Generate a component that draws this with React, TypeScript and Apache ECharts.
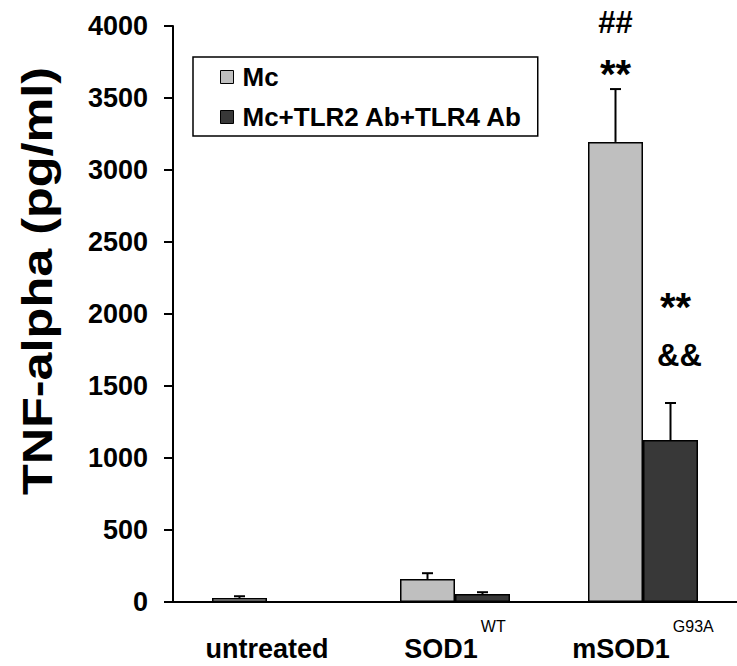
import React, { useEffect, useRef } from "react";
import * as echarts from "echarts";

const categories = ["untreated", "SOD1", "mSOD1"];
const superscripts = ["", "WT", "G93A"];
const seriesNames = ["Mc", "Mc+TLR2 Ab+TLR4 Ab"];
const mcValues = [28, 160, 3195];
const mcErrors = [12, 40, 367];
const abValues = [0, 55, 1125];
const abErrors = [0, 13, 257];
const yTicks = { min: 0, max: 4000, interval: 500 };
const yTitle = "TNF-alpha (pg/ml)";
// annotations: [categoryIndex, seriesIndex, text]
const annotations: [number, number, string][] = [
  [2, 0, "##"],
  [2, 0, "**"],
  [2, 1, "**"],
  [2, 1, "&&"],
];

const FONT = "'Liberation Sans', Arial, sans-serif";
const BAR_W = 55;

export default function App() {
  const ref = useRef<HTMLDivElement>(null);
  useEffect(() => {
    if (!ref.current) return;
    const chart = echarts.init(ref.current, null, { renderer: "svg" });
    const errData: number[][] = [];
    mcValues.forEach((v, i) => {
      if (mcErrors[i] > 0) errData.push([i, v, v + mcErrors[i], -1]);
    });
    abValues.forEach((v, i) => {
      if (abErrors[i] > 0) errData.push([i, v, v + abErrors[i], 1]);
    });
    const option: any = {
      animation: false,
      grid: { left: 173, top: 26, width: 570, height: 576 },
      legend: {
        left: 193,
        top: 57,
        orient: "vertical",
        borderColor: "#000",
        borderWidth: 1.5,
        padding: [7, 15, 6, 27],
        itemWidth: 13,
        itemHeight: 13,
        itemGap: 14,
        icon: "rect",
        itemStyle: { borderColor: "#000", borderWidth: 1 },
        textStyle: {
          fontSize: 26,
          fontWeight: "bold",
          color: "#000",
          fontFamily: FONT,
          padding: [0, 0, 0, 4],
        },
        data: seriesNames,
      },
      xAxis: {
        type: "category",
        data: categories,
        axisLine: { lineStyle: { color: "#000", width: 2 } },
        axisTick: { show: false },
        axisLabel: {
          margin: 16,
          interval: 0,
          formatter: (v: string, i: number) =>
            superscripts[i] ? `{b|${v}}{sup|${superscripts[i]}}` : `{b|${v}}`,
          rich: {
            b: {
              fontSize: 27,
              fontWeight: "bold",
              color: "#000",
              fontFamily: FONT,
              verticalAlign: "bottom",
              lineHeight: 44,
            },
            sup: {
              fontSize: 16,
              color: "#000",
              fontFamily: FONT,
              verticalAlign: "top",
              lineHeight: 44,
              padding: [0, 0, 0, 3],
            },
          },
        },
      },
      yAxis: {
        type: "value",
        min: yTicks.min,
        max: yTicks.max,
        interval: yTicks.interval,
        axisLine: { show: true, lineStyle: { color: "#000", width: 2 } },
        axisTick: { show: true, length: 9, lineStyle: { color: "#000", width: 2 } },
        splitLine: { show: false },
        axisLabel: {
          margin: 25,
          fontSize: 27,
          fontWeight: "bold",
          color: "#000",
          fontFamily: FONT,
          formatter: (v: number) => String(v),
        },
      },
      series: [
        {
          name: seriesNames[0],
          type: "bar",
          data: mcValues,
          barWidth: BAR_W,
          barGap: "0%",
          itemStyle: { color: "#bfbfbf", borderColor: "#000", borderWidth: 1.5 },
        },
        {
          name: seriesNames[1],
          type: "bar",
          data: abValues,
          barWidth: BAR_W,
          barGap: "0%",
          itemStyle: { color: "#383838", borderColor: "#000", borderWidth: 1.5 },
        },
        {
          type: "custom",
          data: errData,
          z: 10,
          renderItem: (params: any, api: any) => {
            const cat = api.value(0);
            const dx = api.value(3) * (BAR_W / 2);
            const p0 = api.coord([cat, api.value(1)]);
            const p1 = api.coord([cat, api.value(2)]);
            const x = p0[0] + dx;
            return {
              type: "group",
              children: [
                {
                  type: "line",
                  shape: { x1: x, y1: p0[1], x2: x, y2: p1[1] },
                  style: { stroke: "#000", lineWidth: 2 },
                },
                {
                  type: "line",
                  shape: { x1: x - 5.5, y1: p1[1], x2: x + 5.5, y2: p1[1] },
                  style: { stroke: "#000", lineWidth: 2 },
                },
              ],
            };
          },
        },
      ],
    };
    chart.setOption(option);

    const offsets: Record<string, [number, number, number]> = {
      "0##": [0, -67, 31],
      "0**": [0, -15, 40],
      "1**": [5, -96, 40],
      "1&&": [9, -47, 31],
    };
    const graphics: any[] = [
      {
        type: "text",
        x: 38,
        y: 281,
        rotation: Math.PI / 2,
        scaleX: 1.2,
        style: {
          text: yTitle,
          fontSize: 42,
          fontWeight: "bold",
          fontFamily: FONT,
          fill: "#000",
          textAlign: "center",
          textVerticalAlign: "middle",
        },
      },
    ];
    annotations.forEach(([cat, s, txt]) => {
      const val = s === 0 ? mcValues[cat] + mcErrors[cat] : abValues[cat] + abErrors[cat];
      const p = chart.convertToPixel({ gridIndex: 0 }, [cat, val]) as number[];
      const dx = (s === 0 ? -1 : 1) * (BAR_W / 2);
      const o = offsets[`${s}${txt}`];
      graphics.push({
        type: "text",
        x: p[0] + dx + o[0],
        y: p[1] + o[1],
        style: {
          text: txt,
          fontSize: o[2],
          fontWeight: "bold",
          fontFamily: FONT,
          fill: "#000",
          textAlign: "center",
          textVerticalAlign: "middle",
        },
      });
    });
    chart.setOption({ graphic: graphics });
    return () => chart.dispose();
  }, []);
  return (
    <div
      ref={ref}
      style={{ position: "fixed", left: 0, top: 0, width: 737, height: 666, background: "#fff" }}
    />
  );
}
